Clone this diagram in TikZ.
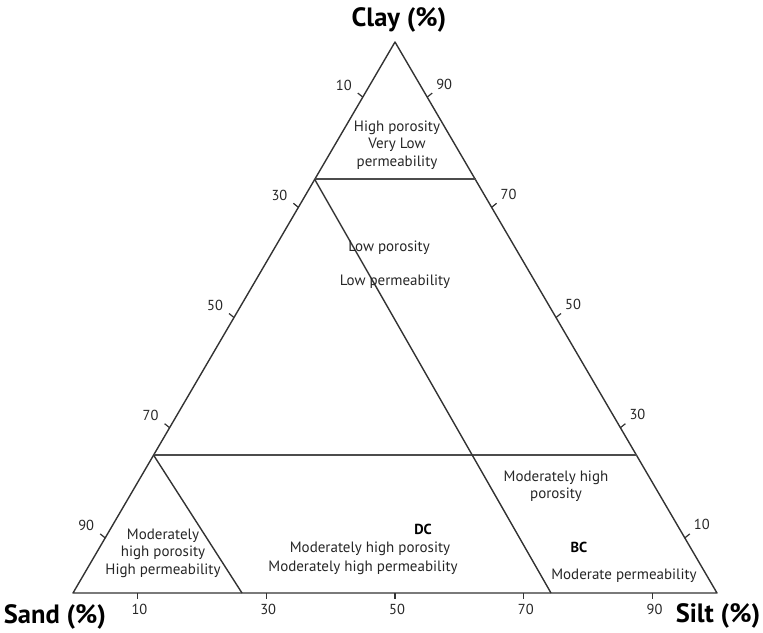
\documentclass[tikz,border=0pt]{standalone}
\usepackage{fontspec}
\setmainfont{PT Sans}
\usetikzlibrary{calc}
\begin{document}
\begin{tikzpicture}[x=1pt,y=-1pt,
  edge/.style={draw=black!80,line width=1.4pt},
  divider/.style={draw=black!70,line width=1.4pt},
  tickmark/.style={draw=black!80,line width=1.2pt},
  region/.style={font=\fontsize{15}{17.5}\selectfont,text=black!85,align=center,inner sep=0pt},
  ticklabel/.style={font=\fontsize{14.5}{16}\selectfont,text=black!85,inner sep=0pt},
  axistitle/.style={font=\fontsize{26.5}{28}\selectfont\bfseries,text=black,inner sep=0pt},
  tag/.style={font=\fontsize{14.5}{16}\selectfont\bfseries,text=black,inner sep=0pt}]
\useasboundingbox (0,0) rectangle (763,632);
% vertices
\coordinate (top) at (395,42);
\coordinate (bl) at (73,593);
\coordinate (br) at (717,593);
\coordinate (hl1) at (314.5,179);
\coordinate (hr1) at (475.5,179);
\coordinate (hl2) at (153.5,455);
\coordinate (hr2) at (636.5,455);
\coordinate (mb) at (551,593);
\coordinate (sb) at (242,593);
% outline
\draw[edge,line join=round] (top) -- (bl) -- (br) -- cycle;
\draw[divider] (hl1) -- (hr1);
\draw[divider] (hl2) -- (hr2);
\draw[edge] (hl1) -- (mb);
\draw[edge] (hl2) -- (sb);
% left ticks
\foreach \t/\lab in {0.1/10,0.3/30,0.5/50,0.7/70,0.9/90}{
  \coordinate (lt\lab) at ({395-322*\t},{42+551*\t});
  \draw[tickmark] (lt\lab) -- ++(-5,-4);
  \node[ticklabel] (ltl\lab) at ($(lt\lab)+(-19,-12)$) {\lab};
}
% right ticks
\foreach \t/\lab in {0.1/90,0.3/70,0.5/50,0.7/30,0.9/10}{
  \coordinate (rt\lab) at ({395+322*\t},{42+551*\t});
  \draw[tickmark] (rt\lab) -- ++(5,-4);
  \node[ticklabel] (rtl\lab) at ($(rt\lab)+(17,-13)$) {\lab};
}
% bottom ticks
\foreach \f/\lab in {0.1/10,0.3/30,0.5/50,0.7/70,0.9/90}{
  \coordinate (bt\lab) at ({73+644*\f},593);
  \draw[tickmark] (bt\lab) -- ++(0,6);
  \node[ticklabel] (btl\lab) at ($(bt\lab)+(2,16)$) {\lab};
}
% titles
\node[axistitle] (clay) at (399,20) {Clay (\%)};
\node[axistitle] (sand) at (55,617) {Sand (\%)};
\node[axistitle] (silt) at (718,616) {Silt (\%)};
% regions
\node[region] (r1) at (397,145) {High porosity\\Very Low\\permeability};
\node[region] (r2a) at (389,248) {Low porosity};
\node[region] (r2b) at (395,282) {Low permeability};
\node[region] (r3) at (163,553) {Moderately\\high porosity\\High permeability};
\node[tag] (dc) at (423,529) {DC};
\node[region] (r4a) at (370,549) {Moderately high porosity};
\node[region] (r4b) at (363,568) {Moderately high permeability};
\node[region] (r5) at (556,486) {Moderately high\\porosity};
\node[tag] (bc) at (579,547) {BC};
\node[region] (r6) at (624,576) {Moderate permeability};
\end{tikzpicture}
\end{document}
